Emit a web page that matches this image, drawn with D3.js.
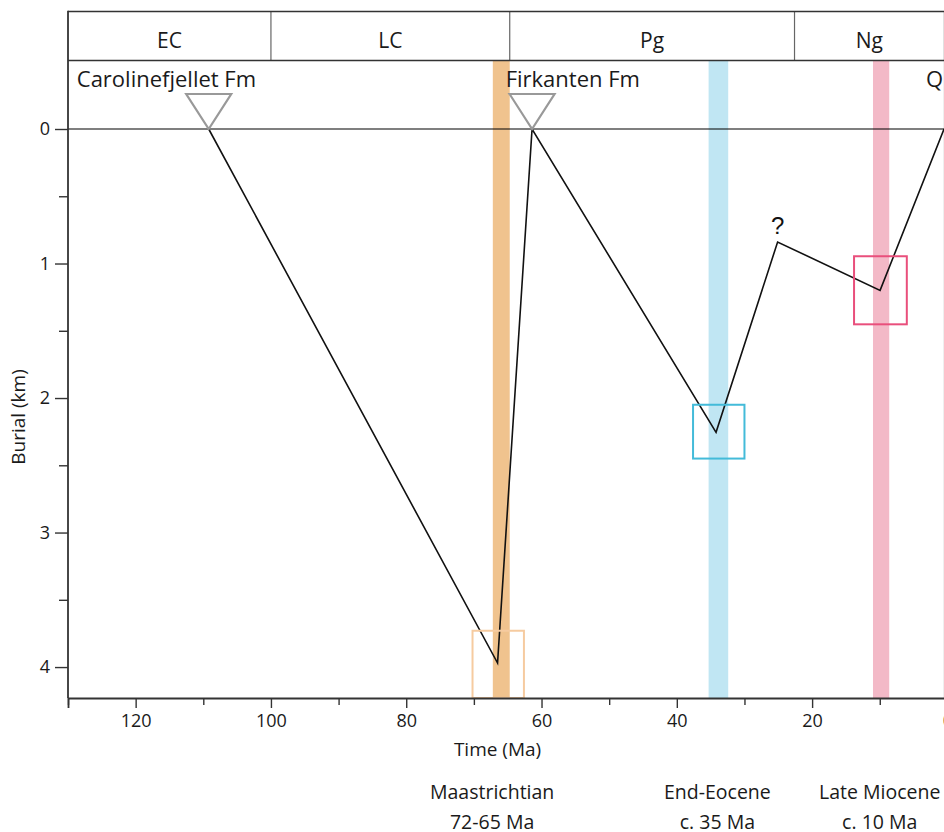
<!DOCTYPE html>
<html>
<head>
<meta charset="utf-8">
<script src="https://cdn.jsdelivr.net/npm/d3@7"></script>
<style>
  body { margin: 0; background: #fff; }
  svg { display: block; font-family: "Open Sans", "Noto Sans", sans-serif; }
</style>
</head>
<body>
<svg id="chart" width="944" height="832"></svg>
<script>
// periods in the header row: [name, start Ma, end Ma]
const periods = [
  ["EC", 130, 100],
  ["LC", 100, 64.7],
  ["Pg", 64.7, 22.6],
  ["Ng", 22.6, 0.5]
];

// burial path: time (Ma), burial (km)
const pathTimes = [109.2, 66.5, 61.4, 34.2, 25.1, 9.95, 0.5];
const pathDepths = [0, 3.97, 0, 2.255, 0.84, 1.2, 0];

// formations (triangle apex at surface)
const formations = [
  { name: "Carolinefjellet Fm", age: 109.2, labelAge: 128.7 },
  { name: "Firkanten Fm", age: 61.4, labelAge: 65.3 }
];

// uplift events: bar span, box span, box depth span, label
const eventNames = ["Maastrichtian", "End-Eocene", "Late Miocene"];
const eventAges = ["72-65 Ma", "c. 35 Ma", "c. 10 Ma"];
const eventLabelAt = [67.3, 34, 10];
const barSpans = [[67.2, 64.7], [35.3, 32.4], [11.0, 8.6]];
const boxSpans = [[70.2, 62.6], [37.6, 30.0], [13.8, 6.0]];
const boxDepths = [[3.73, 4.23], [2.05, 2.45], [0.946, 1.452]];
const barColors = ["#f0c38e", "#c0e6f3", "#f3b9c7"];
const boxColors = ["#f6cba0", "#43bbd9", "#e94f7c"];

const xTicks = d3.range(130, -1, -10);
const yTicks = d3.range(0, 4.01, 0.5);

const svg = d3.select("#chart");

const x = d3.scaleLinear().domain([130, 0]).range([68, 947.4]);
const y = d3.scaleLinear().domain([0, 4.23]).range([129, 698]);

const headerTop = 11.5, headerBottom = 60.5;
const plotTop = headerBottom, plotBottom = y(4.23);

// event bars
barSpans.forEach((s, i) => {
  svg.append("rect")
    .attr("x", x(s[0]))
    .attr("y", plotTop)
    .attr("width", x(s[1]) - x(s[0]))
    .attr("height", plotBottom - plotTop)
    .attr("fill", barColors[i]);
});

// light line at right end of Ng
svg.append("line")
  .attr("x1", x(0.5)).attr("x2", x(0.5))
  .attr("y1", plotTop).attr("y2", plotBottom)
  .attr("stroke", "#e4e4e4").attr("stroke-width", 1.2);

// surface line
svg.append("line")
  .attr("x1", x(130)).attr("x2", 944)
  .attr("y1", y(0)).attr("y2", y(0))
  .attr("stroke", "#000").attr("stroke-width", 1.2);

// burial path
const pts = pathTimes.map((t, i) => [x(t), y(pathDepths[i])]);
svg.append("path")
  .attr("d", d3.line()(pts))
  .attr("fill", "none")
  .attr("stroke", "#111")
  .attr("stroke-width", 1.6)
  .attr("stroke-linejoin", "miter");

// event boxes
boxSpans.forEach((s, i) => {
  svg.append("rect")
    .attr("x", x(s[0]))
    .attr("y", y(boxDepths[i][0]))
    .attr("width", x(s[1]) - x(s[0]))
    .attr("height", y(boxDepths[i][1]) - y(boxDepths[i][0]))
    .attr("fill", "none")
    .attr("stroke", boxColors[i])
    .attr("stroke-width", 2);
});

// question mark
svg.append("text")
  .attr("x", x(25.1))
  .attr("y", y(0.84) - 8)
  .attr("text-anchor", "middle")
  .style("font-family", "Liberation Sans, Arial, sans-serif")
  .style("font-size", "24px")
  .attr("fill", "#111")
  .text("?");

// formation triangles + labels
formations.forEach(f => {
  const ax = x(f.age), ay = y(0);
  svg.append("path")
    .attr("d", `M${ax - 22.5},${ay - 35}L${ax + 22.5},${ay - 35}L${ax},${ay}Z`)
    .attr("fill", "none")
    .attr("stroke", "#999")
    .attr("stroke-width", 2.2);
  svg.append("text")
    .attr("x", x(f.labelAge))
    .attr("y", 87)
    .style("font-size", "22px")
    .attr("fill", "#1a1a1a")
    .text(f.name);
});
svg.append("text")
  .attr("x", 926)
  .attr("y", 87)
  .style("font-size", "22px")
  .attr("fill", "#1a1a1a")
  .text("Q");

// header row
const header = svg.append("g");
periods.forEach(p => {
  header.append("text")
    .attr("x", (x(p[1]) + x(p[2])) / 2)
    .attr("y", 48)
    .attr("text-anchor", "middle")
    .style("font-size", "21px")
    .attr("fill", "#1a1a1a")
    .text(p[0]);
  if (p[2] > 1) {
    header.append("line")
      .attr("x1", x(p[2])).attr("x2", x(p[2]))
      .attr("y1", headerTop).attr("y2", headerBottom)
      .attr("stroke", "#666").attr("stroke-width", 1.2);
  }
});
header.append("line")
  .attr("x1", x(0.5)).attr("x2", x(0.5))
  .attr("y1", headerTop).attr("y2", headerBottom)
  .attr("stroke", "#ccc").attr("stroke-width", 1.2);
[headerTop, headerBottom].forEach(yy => {
  header.append("line")
    .attr("x1", x(130)).attr("x2", 944)
    .attr("y1", yy).attr("y2", yy)
    .attr("stroke", "#333").attr("stroke-width", 1.6);
});

// left frame line
svg.append("line")
  .attr("x1", x(130)).attr("x2", x(130))
  .attr("y1", headerTop - 0.8).attr("y2", plotBottom)
  .attr("stroke", "#333").attr("stroke-width", 1.8);

// x axis
const xAxis = d3.axisBottom(x)
  .tickValues(xTicks)
  .tickSizeOuter(0)
  .tickSize(10)
  .tickPadding(6)
  .tickFormat(d => (d % 20 === 0) ? d : "");
const gx = svg.append("g")
  .attr("transform", `translate(0,${plotBottom})`)
  .call(xAxis);
gx.select(".domain").attr("stroke", "#333").attr("stroke-width", 1.8);
gx.selectAll(".tick line")
  .attr("stroke", "#333").attr("stroke-width", 1.4)
  .attr("y2", d => (d % 20 === 0) ? 10 : 7);
gx.selectAll(".tick text")
  .style("font-size", "18px")
  .style("font-family", "Open Sans, sans-serif")
  .attr("fill", "#1a1a1a")
  .attr("dy", "0.72em");

// y axis
const yAxis = d3.axisLeft(y)
  .tickValues(yTicks)
  .tickSizeOuter(0)
  .tickSize(13)
  .tickPadding(5)
  .tickFormat(d => Number.isInteger(d) ? d : "");
const gy = svg.append("g")
  .attr("transform", `translate(${x(130)},0)`)
  .call(yAxis);
gy.select(".domain").remove();
gy.selectAll(".tick line")
  .attr("stroke", "#333").attr("stroke-width", 1.4)
  .attr("x2", d => Number.isInteger(d) ? -13 : -9);
gy.selectAll(".tick text")
  .style("font-size", "18px")
  .style("font-family", "Open Sans, sans-serif")
  .attr("fill", "#1a1a1a");

// axis titles
svg.append("text")
  .attr("x", x(66.5))
  .attr("y", 756)
  .attr("text-anchor", "middle")
  .style("font-size", "19px")
  .attr("fill", "#1a1a1a")
  .text("Time (Ma)");
svg.append("text")
  .attr("transform", `translate(25,417) rotate(-90)`)
  .attr("text-anchor", "middle")
  .style("font-size", "19px")
  .attr("fill", "#1a1a1a")
  .text("Burial (km)");

// event labels under the axis
eventNames.forEach((n, i) => {
  const cx = x(eventLabelAt[i]);
  svg.append("text")
    .attr("x", cx).attr("y", 799)
    .attr("text-anchor", "middle")
    .style("font-size", "19.5px")
    .attr("fill", "#1a1a1a")
    .text(n);
  svg.append("text")
    .attr("x", cx).attr("y", 829)
    .attr("text-anchor", "middle")
    .style("font-size", "19.5px")
    .attr("fill", "#1a1a1a")
    .text(eventAges[i]);
});
</script>
</body>
</html>
